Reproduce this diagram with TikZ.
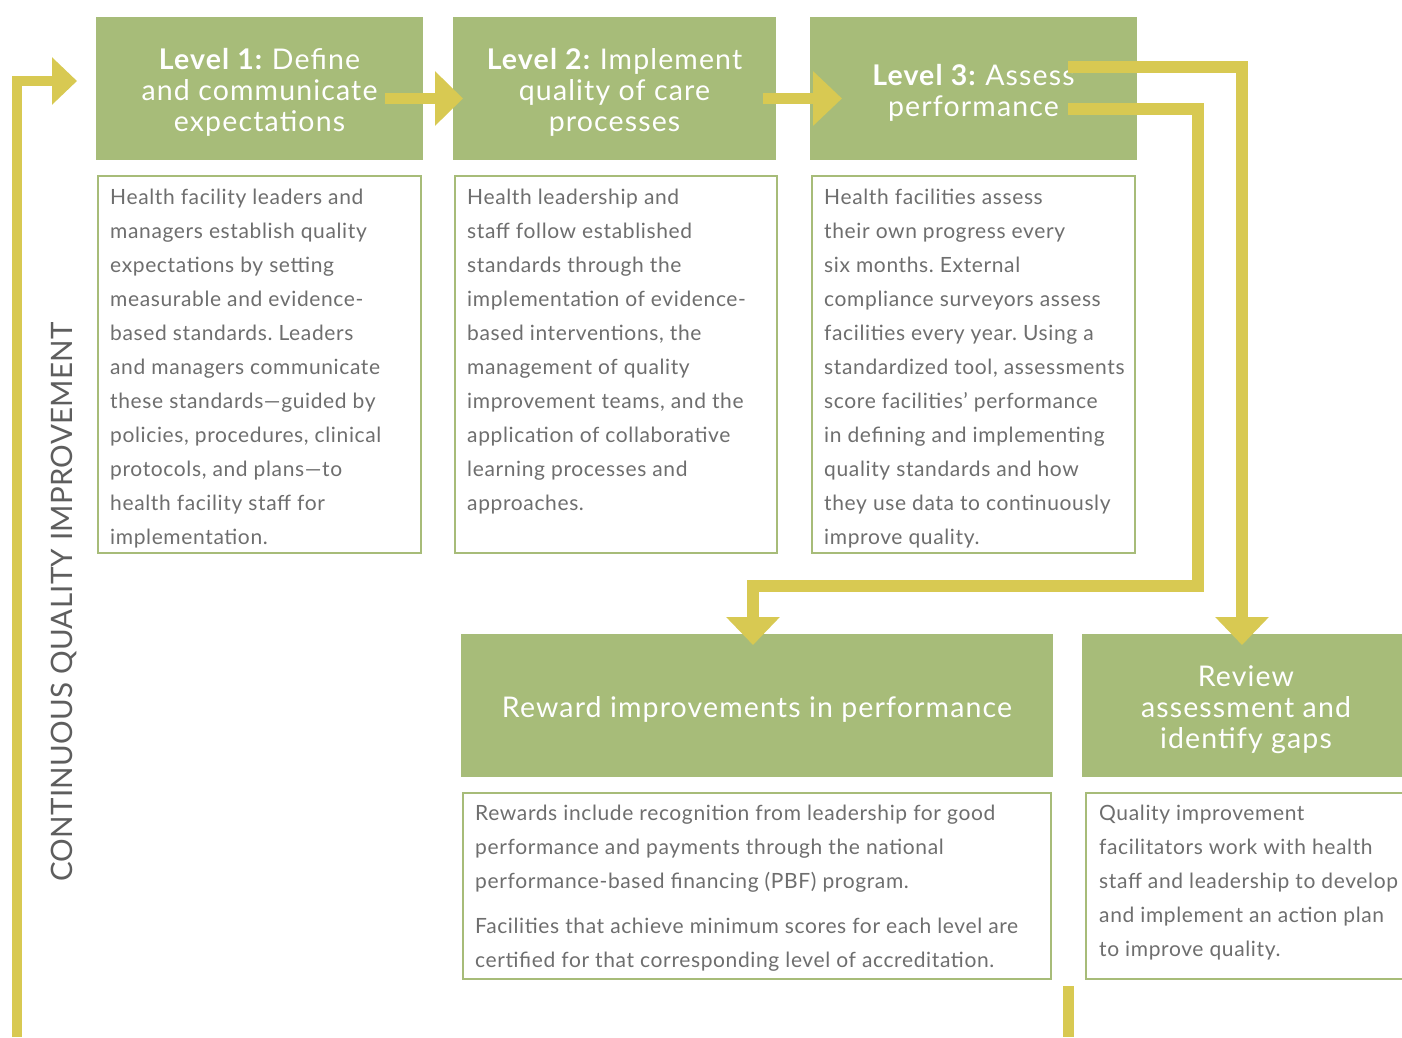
\documentclass[tikz,border=0pt]{standalone}
\usepackage{fontspec}
\setmainfont{Lato}
\newfontfamily\bodyfont{Lato}[LetterSpace=3]
\newfontfamily\headfont{Lato}[LetterSpace=4]
\newfontfamily\labfont{Lato}[LetterSpace=1]
\usetikzlibrary{arrows.meta,calc}
\definecolor{hgreen}{HTML}{A7BC79}
\definecolor{arrowy}{HTML}{D8C952}
\definecolor{tgray}{HTML}{6E6E6E}
\definecolor{labgray}{HTML}{5E5E5E}
\frenchspacing
\begin{document}
\begin{tikzpicture}[x=1pt,y=-1pt,
  header/.style={fill=hgreen, draw=none, anchor=north west, inner sep=0pt, outer sep=0pt},
  headtext/.style={text=white, align=center, inner sep=0pt, font=\headfont\fontsize{28.5}{31}\selectfont},
  bodybox/.style={draw=hgreen, line width=2.5pt, fill=white, anchor=north west, inner sep=0pt, outer sep=0pt},
  bodytext/.style={text=tgray, align=left, anchor=north west, inner sep=0pt, font=\bodyfont\fontsize{21}{34}\selectfont},
  flow/.style={draw=arrowy, line width=12pt, line join=miter},
  bighead/.style={-{Triangle[length=28pt,width=52pt]}}
]
\useasboundingbox (0,0) rectangle (1402,1037);
\clip (0,0) rectangle (1402,1037);
\fill[white] (0,0) rectangle (1402,1037);

% header boxes
\node[header, minimum width=327pt, minimum height=143pt] (h1) at (96,17) {};
\node[header, minimum width=323pt, minimum height=143pt] (h2) at (453,17) {};
\node[header, minimum width=327pt, minimum height=143pt] (h3) at (810,17) {};
\node[header, minimum width=592pt, minimum height=143pt] (h4) at (461,634) {};
\node[header, minimum width=320pt, minimum height=143pt] (h5) at (1082,634) {};

\node[headtext] (h1t) at ($(h1.center)+(0,4)$) {\textbf{Level 1:} Define\\and communicate\\expectations};
\node[headtext] (h2t) at ($(h2.center)+(0,4)$) {\textbf{Level 2:} Implement\\quality of care\\processes};
\node[headtext] (h3t) at ($(h3.center)+(0,4)$) {\textbf{Level 3:} Assess\\performance};
\node[headtext] (h4t) at ($(h4.center)+(0,4)$) {Reward improvements in performance};
\node[headtext] (h5t) at ($(h5.center)+(4,4)$) {Review\\assessment and\\identify gaps};

% body boxes
\node[bodybox, minimum width=323pt, minimum height=377pt] (b1) at (98,176) {};
\node[bodybox, minimum width=322pt, minimum height=377pt] (b2) at (455,176) {};
\node[bodybox, minimum width=323pt, minimum height=377pt] (b3) at (812,176) {};
\node[bodybox, minimum width=588pt, minimum height=186pt] (b4) at (463,793) {};
\node[bodybox, minimum width=400pt, minimum height=186pt] (b5) at (1086,793) {};

\node[bodytext] (b1t) at (110,188.5) {Health facility leaders and\\managers establish quality\\expectations by setting\\measurable and evidence-\\based standards. Leaders\\and managers communicate\\these standards—guided by\\policies, procedures, clinical\\protocols, and plans—to\\health facility staff for\\implementation.};
\node[bodytext] (b2t) at (467,188.5) {Health leadership and\\staff follow established\\standards through the\\implementation of evidence-\\based interventions, the\\management of quality\\improvement teams, and the\\application of collaborative\\learning processes and\\approaches.};
\node[bodytext] (b3t) at (824,188.5) {Health facilities assess\\their own progress every\\six months. External\\compliance surveyors assess\\facilities every year. Using a\\standardized tool, assessments\\score facilities’ performance\\in defining and implementing\\quality standards and how\\they use data to continuously\\improve quality.};
\node[bodytext] (b4t) at (475,804.5) {Rewards include recognition from leadership for good\\performance and payments through the national\\performance-based financing (PBF) program.\\[11pt]Facilities that achieve minimum scores for each level are\\certified for that corresponding level of accreditation.};
\node[bodytext] (b5t) at (1099,804.5) {Quality improvement\\facilitators work with health\\staff and leadership to develop\\and implement an action plan\\to improve quality.};

% side label
\node[rotate=90, text=labgray, inner sep=0pt, font=\labfont\fontsize{29.5}{29.5}\selectfont] (cqi) at (64,602) {CONTINUOUS QUALITY IMPROVEMENT};

% connectors
\coordinate (loopstart) at (17,1037);
\coordinate (looptip) at ($(h1.west)+(-19,-7.5)$);
\draw[flow, line width=10pt, -{Triangle[length=25pt,width=46pt]}] (loopstart) |- (looptip);

\draw[flow, line width=11pt, -{Triangle[length=28pt,width=53pt]}] ($(h1.east)+(-38,10)$) -- ($(h2.west)+(10,10)$);
\draw[flow, line width=11pt, -{Triangle[length=29pt,width=53pt]}] ($(h2.east)+(-13,10)$) -- ($(h3.west)+(32,10)$);

\coordinate (l1start) at ($(h3.east)+(-69,-21.5)$);
\coordinate (h5tip) at ($(h5.north)+(0,11)$);
\draw[flow, bighead] (l1start) -| (h5tip);

\coordinate (l2start) at ($(h3.east)+(-69,20)$);
\coordinate (l2corner) at (1198,586);
\coordinate (h4tip) at ($(h4.north west)+(292,11)$);
\draw[flow, bighead] (l2start) -| (l2corner) -| (h4tip);

\coordinate (stubtop) at (1068.5,986);
\coordinate (stubend) at (1068.5,1037);
\draw[flow, line width=11pt] (stubtop) -- (stubend);
\end{tikzpicture}
\end{document}
